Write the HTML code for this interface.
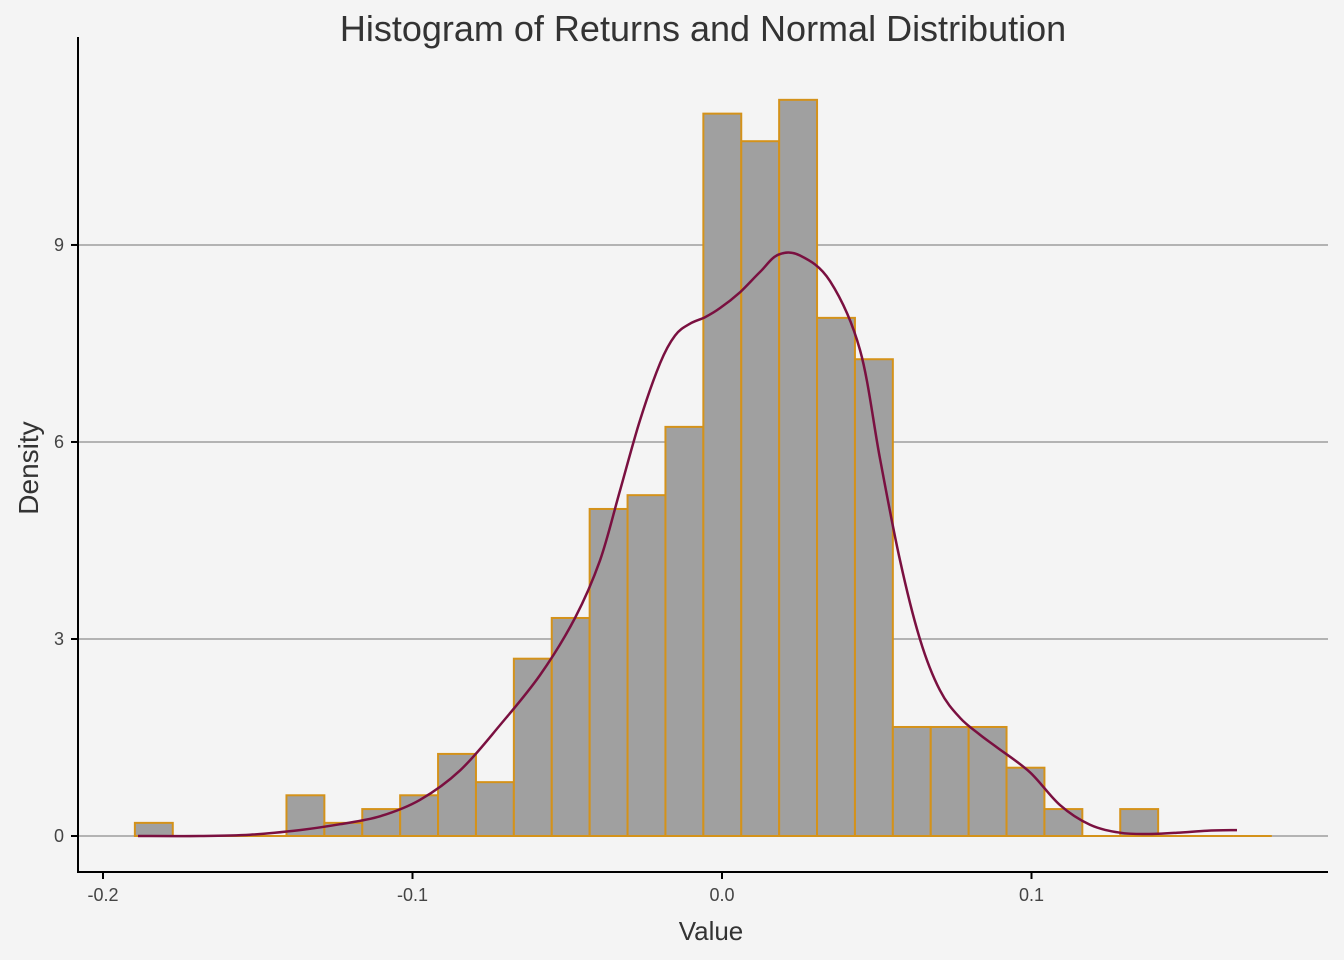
<!DOCTYPE html>
<html><head><meta charset="utf-8"><style>
html,body{margin:0;padding:0;background:#f4f4f4;}
svg{display:block;font-family:"Liberation Sans",sans-serif;}
</style></head><body>
<svg id="chart" width="1344" height="960">
<rect width="1344" height="960" fill="#f4f4f4"/>
<text x="703" y="41" font-size="36" fill="#333" text-anchor="middle">Histogram of Returns and Normal Distribution</text>
<g id="grid"></g><g id="bars"></g><g id="curve"></g><g id="axes"></g>
<text x="711" y="940" font-size="26" fill="#333" text-anchor="middle">Value</text>
<text x="38" y="468" font-size="28" fill="#333" text-anchor="middle" transform="rotate(-90 38 468)">Density</text>
</svg>
<script>
const binStart = -0.1897;
const binWidth = 0.012245;
const binHeights = [0.2,0,0,0,0.62,0.2,0.41,0.62,1.25,0.82,2.7,3.32,4.98,5.19,6.23,11.0,10.58,11.21,7.89,7.26,1.66,1.66,1.66,1.04,0.41,0,0.41,0,0,0];
const curveX = [-0.1887,-0.1687,-0.1525,-0.1364,-0.1234,-0.1105,-0.0976,-0.0846,-0.0717,-0.0588,-0.0475,-0.0394,-0.0329,-0.0265,-0.0200,-0.0152,-0.0104,-0.0055,-0.0006,0.0058,0.0123,0.0181,0.0252,0.0349,0.0446,0.0511,0.0575,0.0640,0.0704,0.0769,0.0834,0.0891,0.0995,0.1092,0.1189,0.1286,0.1373,0.1470,0.1567,0.1664];
const curveY = [0,0,0.02,0.09,0.18,0.3,0.55,1.0,1.69,2.45,3.32,4.2,5.27,6.33,7.2,7.62,7.8,7.9,8.04,8.28,8.59,8.85,8.84,8.45,7.4,5.73,4.2,2.99,2.22,1.8,1.54,1.34,0.97,0.47,0.17,0.05,0.03,0.05,0.08,0.09];
const yTicks = [0,3,6,9];
const xTicks = [-0.2,-0.1,0.0,0.1];
const xTickLabels = ["-0.2","-0.1","0.0","0.1"];
const NS="http://www.w3.org/2000/svg";
const X = v => 722 + v*3095;
const Y = v => 836 - v*65.67;
function mk(tag, attrs, parent){const e=document.createElementNS(NS,tag);for(const k in attrs)e.setAttribute(k,attrs[k]);document.getElementById(parent).appendChild(e);return e;}
yTicks.forEach(t=>{
  const g=mk('line',{x1:78,x2:1328,y1:Y(t),y2:Y(t),stroke:'#b3b3b3','stroke-width':2},'grid');
  
  
  const tk=mk('line',{x1:71,x2:78,y1:Y(t),y2:Y(t),stroke:'#000','stroke-width':2},'axes');
  
  
  const l=mk('text',{x:64,y:Y(t)+6,'font-size':18,fill:'#444','text-anchor':'end'},'axes');
  l.textContent=t;
  
  
});
xTicks.forEach((t,i)=>{
  const tk=mk('line',{x1:X(t),x2:X(t),y1:872,y2:879,stroke:'#000','stroke-width':2},'axes');
  
  
  const l=mk('text',{x:X(t),y:901,'font-size':18,fill:'#444','text-anchor':'middle'},'axes');
  l.textContent=xTickLabels[i];
  
  
});
binHeights.forEach((h,i)=>{
  const x0=X(binStart+i*binWidth), x1=X(binStart+(i+1)*binWidth);
  if(h>0){
    const r=mk('rect',{x:x0,y:Y(h),width:x1-x0,height:Y(0)-Y(h),fill:'#a0a0a0',stroke:'#d4921a','stroke-width':2},'bars');
    
    
  } else {
    const r=mk('line',{x1:x0,x2:x1,y1:Y(0),y2:Y(0),stroke:'#d4921a','stroke-width':2},'bars');
    
    
  }
});
const pts=curveX.map((x,i)=>[X(x),Y(curveY[i])]);
let d='M'+pts[0][0].toFixed(1)+','+pts[0][1].toFixed(1);
for(let i=0;i<pts.length-1;i++){
  const p0=pts[Math.max(0,i-1)],p1=pts[i],p2=pts[i+1],p3=pts[Math.min(pts.length-1,i+2)];
  const c1=[p1[0]+(p2[0]-p0[0])/6,p1[1]+(p2[1]-p0[1])/6];
  const c2=[p2[0]-(p3[0]-p1[0])/6,p2[1]-(p3[1]-p1[1])/6];
  d+=' C'+c1[0].toFixed(1)+','+c1[1].toFixed(1)+' '+c2[0].toFixed(1)+','+c2[1].toFixed(1)+' '+p2[0].toFixed(1)+','+p2[1].toFixed(1);
}
const p=mk('path',{d:d,fill:'none',stroke:'#7a1040','stroke-width':2.5,'stroke-linejoin':'round'},'curve');


const ax=mk('path',{d:'M78,37 L78,872 L1328,872',fill:'none',stroke:'#000','stroke-width':2},'axes');


</script>
</body></html>
